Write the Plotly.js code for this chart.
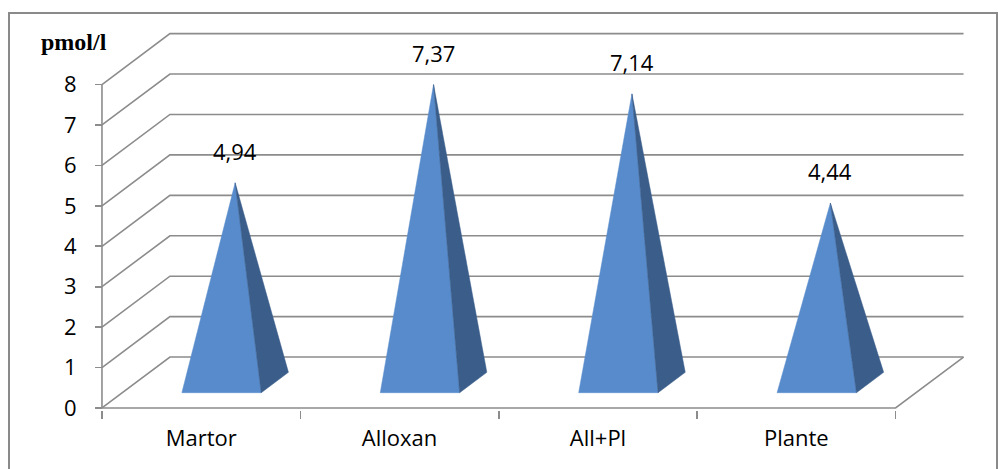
<!DOCTYPE html>
<html>
<head>
<meta charset="utf-8">
<script src="https://cdn.plot.ly/plotly-3.0.1.min.js"></script>
<style>
  html, body { margin: 0; padding: 0; background: #fff; }
  #wrap { position: relative; width: 998px; height: 469px; overflow: hidden; }
  #chart { position: absolute; left: 0; top: 0; width: 998px; height: 469px; }
  #frame { position: absolute; left: 8px; top: 12px; width: 986px; height: 480px;
           border: 2px solid #8a8a8a; pointer-events: none; }
</style>
</head>
<body>
<div id="wrap">
  <div id="chart"></div>
  <div id="frame"></div>
</div>
<script>
// ---- data ----
const categories = ["Martor", "Alloxan", "All+Pl", "Plante"];
const values = [4.94, 7.37, 7.14, 4.44];
const valueLabels = ["4,94", "7,37", "7,14", "4,44"];
const yTicks = [0, 1, 2, 3, 4, 5, 6, 7, 8];
const unitLabel = "pmol/l";

// ---- oblique 3D projection settings ----
const DX = 0.3426;   // horizontal shift of full depth (category units)
const DY = 1.26;     // vertical shift of full depth (value units)
const HW = 0.2;      // pyramid half width
const D0 = 0.3, D1 = 0.7, DM = 0.5; // pyramid depth span
function P(x, v, d) { return [x + d * DX, v + d * DY]; }

const gridColor = "#8c8c8c";
const traces = [];
const n = categories.length;
const x0 = -0.5, x1 = n - 0.5;
const yMax = yTicks[yTicks.length - 1];

// gridlines: left wall diagonal + back wall horizontal
let gx = [], gy = [];
yTicks.forEach(v => {
  const a = P(x0, v, 0), b = P(x0, v, 1), c = P(x1, v, 1);
  gx.push(a[0], b[0], c[0], null);
  gy.push(a[1], b[1], c[1], null);
});
// floor front edge and right edge
{
  const a = P(x0, 0, 0), b = P(x1, 0, 0), c = P(x1, 0, 1);
  gx.push(a[0], b[0], c[0], null);
  gy.push(a[1], b[1], c[1], null);
}
// vertical value axis line
gx.push(x0, x0, null);
gy.push(0, yMax, null);
traces.push({
  x: gx, y: gy, type: "scatter", mode: "lines",
  line: { color: gridColor, width: 1.6 }, hoverinfo: "skip", showlegend: false
});

// pyramids
const frontColor = "#578bcb", sideColor = "#3a5d8a";
values.forEach((v, i) => {
  const fl = P(i - HW, 0, D0), fr = P(i + HW, 0, D0), br = P(i + HW, 0, D1);
  const apex = P(i, v, DM);
  traces.push({
    x: [fl[0], fr[0], apex[0], fl[0]], y: [fl[1], fr[1], apex[1], fl[1]],
    type: "scatter", mode: "lines", fill: "toself", fillcolor: frontColor,
    line: { width: 0.5, color: frontColor }, hoverinfo: "skip", showlegend: false
  });
  traces.push({
    x: [fr[0], br[0], apex[0], fr[0]], y: [fr[1], br[1], apex[1], fr[1]],
    type: "scatter", mode: "lines", fill: "toself", fillcolor: sideColor,
    line: { width: 0.5, color: sideColor }, hoverinfo: "skip", showlegend: false
  });
});

const annotations = values.map((v, i) => {
  const apex = P(i, v, DM);
  return {
    x: apex[0], y: apex[1], xref: "x", yref: "y", text: valueLabels[i],
    showarrow: false, yshift: 32, xanchor: "center", yanchor: "middle",
    font: { family: "Open Sans", size: 22, color: "#000" }
  };
});
annotations.push({
  x: -0.028, y: 0.974, xref: "paper", yref: "paper", text: "<b>" + unitLabel + "</b>",
  showarrow: false, xanchor: "center", yanchor: "middle",
  font: { family: "Liberation Serif", size: 24, color: "#000" }
});

const layout = {
  width: 998, height: 469,
  margin: { l: 98, r: 31, t: 32, b: 59, pad: 0 },
  paper_bgcolor: "#fff", plot_bgcolor: "#fff",
  showlegend: false,
  xaxis: {
    range: [-0.52, 3.86], showgrid: false, zeroline: false, showline: false,
    tickmode: "array", tickvals: categories.map((_, i) => i), ticktext: categories,
    ticks: "", ticklabelstandoff: 13,
    tickfont: { family: "Open Sans", size: 22, color: "#000" },
    minor: { tickmode: "array", tickvals: categories.map((_, i) => i - 0.5).concat([n - 0.5]),
             ticks: "outside", ticklen: 8, tickwidth: 1.6, tickcolor: gridColor, showgrid: false },
    fixedrange: true
  },
  yaxis: {
    range: [-0.05, 9.3], showgrid: false, zeroline: false, showline: false,
    anchor: "free", position: 4 / 869,
    tickmode: "array", tickvals: yTicks, ticktext: yTicks.map(String),
    ticks: "outside", ticklen: 7, tickwidth: 1.6, tickcolor: gridColor,
    ticklabelstandoff: 14,
    tickfont: { family: "Open Sans", size: 22, color: "#000" },
    fixedrange: true
  },
  annotations: annotations
};

Plotly.newPlot("chart", traces, layout, { staticPlot: true, displayModeBar: false });
</script>
</body>
</html>
